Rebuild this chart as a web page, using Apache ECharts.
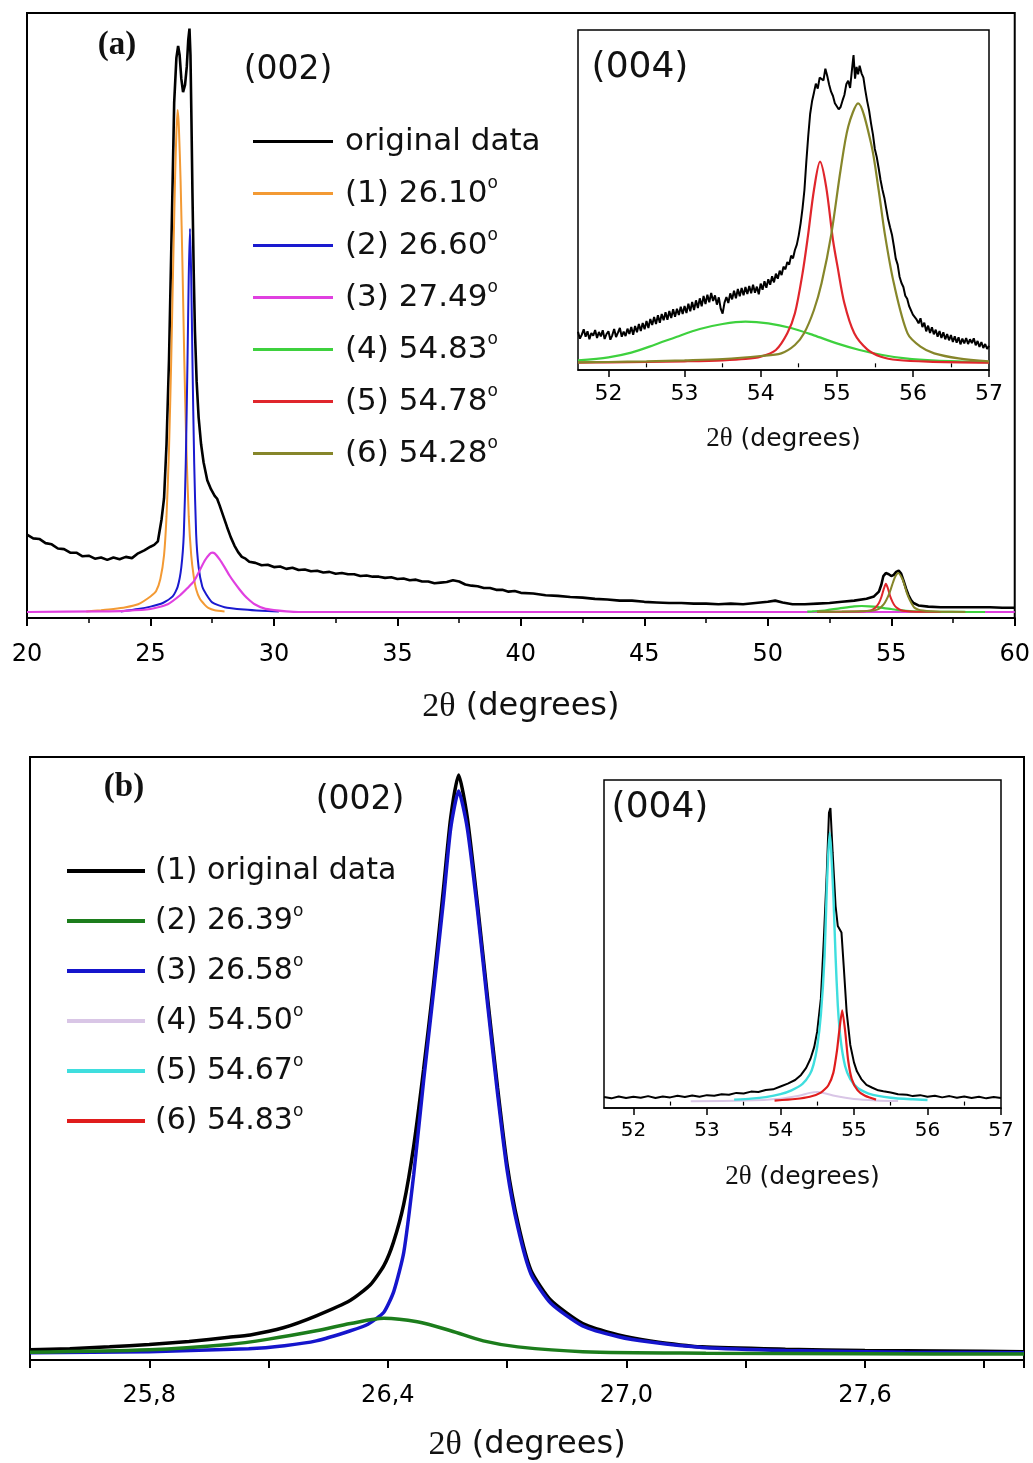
<!DOCTYPE html>
<html>
<head>
<meta charset="utf-8">
<script src="https://cdn.jsdelivr.net/npm/echarts@6/dist/echarts.min.js"></script>
<style>
  html, body { margin: 0; padding: 0; background: #fff; }
  #chart { width: 1033px; height: 1463px; }
</style>
</head>
<body>
<div id="chart"></div>
<script>
// ---------- panel (a): wide 2θ scan 20–60° and its Lorentzian components ----------
const scanA = [
  [20.0,12.9],[20.25,12.3],[20.5,12.2],[20.75,11.5],[21.0,11.3],[21.25,10.6],[21.5,10.5],[21.75,9.9],
  [22.0,9.9],[22.25,9.3],[22.5,9.4],[22.75,8.9],[23.0,9.1],[23.25,8.7],[23.5,9.1],[23.75,8.8],
  [24.0,9.2],[24.25,9.0],[24.5,9.8],[24.75,10.3],[25.0,10.9],[25.15,11.2],[25.3,11.8],[25.45,15.5],
  [25.55,19.0],[25.65,28.0],[25.75,42.0],[25.85,62.0],[25.96,85.0],[26.05,92.5],[26.12,94.5],[26.18,93.0],
  [26.25,89.0],[26.32,86.8],[26.4,88.0],[26.47,91.0],[26.53,95.5],[26.58,97.4],[26.62,93.0],[26.66,82.0],
  [26.7,70.0],[26.75,57.0],[26.8,47.0],[26.87,38.5],[26.95,32.5],[27.05,28.0],[27.15,25.0],[27.3,22.0],
  [27.45,20.5],[27.6,19.4],[27.7,18.9],[27.8,17.8],[27.95,16.0],[28.1,14.2],[28.25,12.5],[28.4,11.1],
  [28.55,10.0],[28.7,9.2],[28.85,8.9],[29.0,8.4],[29.25,8.2],[29.5,7.8],[29.75,7.9],[30.0,7.5],
  [30.25,7.6],[30.5,7.2],[30.75,7.4],[31.0,7.0],[31.25,7.1],[31.5,6.8],[31.75,6.9],[32.0,6.6],
  [32.25,6.7],[32.5,6.4],[32.75,6.5],[33.0,6.3],[33.25,6.3],[33.5,6.0],[33.75,6.1],[34.0,5.9],
  [34.25,5.9],[34.5,5.7],[34.75,5.8],[35.0,5.5],[35.25,5.6],[35.5,5.3],[35.75,5.4],[36.0,5.1],
  [36.25,5.1],[36.5,4.8],[36.75,4.9],[37.0,5.0],[37.25,5.3],[37.5,5.1],[37.75,4.6],[38.0,4.4],
  [38.25,4.3],[38.5,4.0],[38.75,4.0],[39.0,3.7],[39.25,3.7],[39.5,3.4],[39.75,3.5],[40.0,3.2],
  [40.5,3.1],[41.0,2.8],[41.5,2.7],[42.0,2.5],[42.5,2.4],[43.0,2.2],[43.5,2.1],[44.0,1.9],
  [44.5,1.9],[45.0,1.7],[45.5,1.6],[46.0,1.5],[46.5,1.5],[47.0,1.4],[47.5,1.4],[48.0,1.3],
  [48.5,1.4],[49.0,1.3],[49.5,1.5],[50.0,1.7],[50.3,1.9],[50.6,1.6],[51.0,1.3],[51.5,1.3],
  [52.0,1.4],[52.5,1.5],[53.0,1.7],[53.5,1.9],[54.0,2.2],[54.3,2.6],[54.5,3.4],[54.6,4.6],
  [54.68,6.0],[54.78,6.5],[54.9,6.3],[55.0,6.0],[55.1,6.2],[55.2,6.7],[55.3,6.9],[55.4,6.4],
  [55.5,5.2],[55.6,3.9],[55.7,2.8],[55.8,2.0],[55.9,1.5],[56.1,1.1],[56.5,0.9],[57.0,0.8],
  [57.5,0.8],[58.0,0.8],[58.5,0.8],[59.0,0.8],[59.5,0.7],[60.0,0.7]
];
const fitA1 = [
  [22.4,0.1],[23.0,0.3],[23.5,0.5],[24.0,0.8],[24.5,1.3],[25.0,2.6],[25.23,3.5],[25.4,5.5],
  [25.55,9.5],[25.65,16],[25.75,27],[25.84,42],[25.92,58],[26.0,73],[26.05,80],[26.1,83.8],
  [26.15,81],[26.22,72],[26.3,57],[26.37,42],[26.45,28],[26.55,16],[26.65,9.5],[26.75,6],
  [26.85,3.8],[27.0,2.2],[27.2,1.2],[27.34,0.7],[27.6,0.3],[28.0,0.1]
];
const fitA2 = [
  [23.8,0.1],[24.5,0.5],[25.0,0.9],[25.5,1.5],[25.9,2.6],[26.1,4.2],[26.25,7.5],[26.35,13],
  [26.43,25],[26.5,42],[26.55,56],[26.6,64],[26.65,56],[26.7,42],[26.77,25],[26.85,13],
  [26.95,7.5],[27.1,4.2],[27.25,3.0],[27.5,1.6],[28.0,0.8],[28.8,0.4],[29.5,0.2],[30.2,0.1]
];
const fitA3 = [
  [20.0,0],[23.0,0.1],[24.0,0.2],[25.0,0.5],[25.7,1.3],[26.2,2.8],[26.5,4.0],[26.77,5.2],
  [27.0,7.0],[27.2,8.6],[27.4,9.7],[27.5,9.9],[27.6,9.8],[27.8,8.8],[28.0,7.5],[28.2,6.1],
  [28.4,4.9],[28.6,3.8],[28.8,2.8],[29.0,2.0],[29.2,1.35],[29.6,0.6],[30.0,0.3],[30.5,0.1],[31.0,0],[60.0,0]
];
const fitA4 = [
  [51.6,0.05],[51.8,0.1],[52.3,0.25],[52.9,0.6],[53.5,0.95],[53.8,1.0],[54.1,0.95],[54.4,0.85],
  [54.7,0.65],[55.0,0.5],[55.3,0.32],[55.6,0.2],[55.9,0.12],[56.3,0.07],[57.0,0.03],[58.0,0.01],[58.8,0]
];
const fitA5 = [
  [52.0,0.03],[53.0,0.05],[53.5,0.07],[54.0,0.16],[54.2,0.3],[54.35,0.7],[54.5,1.5],[54.6,2.5],
  [54.7,3.9],[54.78,4.7],[54.86,4.0],[54.95,2.7],[55.05,1.7],[55.15,1.0],[55.23,0.7],[55.4,0.3],
  [55.58,0.16],[56.0,0.06],[57.0,0.02]
];
const fitA6 = [
  [52.0,0.03],[53.0,0.07],[53.5,0.1],[54.0,0.18],[54.27,0.25],[54.45,0.45],[54.57,0.75],[54.7,1.3],
  [54.8,2.0],[54.93,3.2],[55.05,4.7],[55.15,5.8],[55.28,6.5],[55.45,5.5],[55.55,4.3],[55.63,3.2],
  [55.75,2.0],[55.93,0.75],[56.1,0.4],[56.28,0.25],[56.6,0.12],[57.0,0.05],[58.0,0.01]
];

// inset of panel (a): the (004) reflection, 51.6–57°
const scanA004 = [
  [51.600,9.5],[51.625,7.4],[51.650,8.6],[51.675,10.2],[51.700,8.0],[51.725,9.6],[51.750,7.2],[51.775,9.1],
  [51.800,8.3],[51.825,10.0],[51.850,7.6],[51.875,9.4],[51.900,8.1],[51.925,9.9],[51.950,7.3],[51.975,8.8],
  [52.000,9.6],[52.025,7.1],[52.050,8.4],[52.075,10.3],[52.100,7.9],[52.125,9.2],[52.150,10.6],[52.175,8.0],
  [52.200,9.5],[52.225,8.2],[52.250,10.4],[52.275,8.8],[52.300,10.9],[52.325,8.6],[52.350,11.2],[52.375,9.3],
  [52.400,11.8],[52.425,9.7],[52.450,12.1],[52.475,10.2],[52.500,12.7],[52.525,10.6],[52.550,13.3],[52.575,11.5],
  [52.600,13.9],[52.625,11.8],[52.650,14.4],[52.675,12.2],[52.700,14.8],[52.725,12.9],[52.750,15.3],[52.775,13.1],
  [52.800,15.7],[52.825,13.6],[52.850,16.2],[52.875,14.0],[52.900,16.4],[52.925,14.5],[52.950,17.0],[52.975,14.8],
  [53.000,17.2],[53.025,15.1],[53.050,17.9],[53.075,15.6],[53.100,18.4],[53.125,16.0],[53.150,18.9],[53.175,16.6],
  [53.200,19.5],[53.225,17.1],[53.250,20.2],[53.275,17.8],[53.300,20.6],[53.325,18.3],[53.350,21.1],[53.375,18.7],
  [53.400,20.4],[53.425,17.6],[53.450,19.8],[53.475,16.4],[53.500,14.9],[53.525,18.2],[53.550,19.9],[53.575,18.1],
  [53.600,21.0],[53.625,19.2],[53.650,21.8],[53.675,19.5],[53.700,22.3],[53.725,20.1],[53.750,22.6],[53.775,20.4],
  [53.800,22.9],[53.825,20.8],[53.850,23.2],[53.875,21.0],[53.900,23.6],[53.925,21.2],[53.950,23.0],[53.975,20.7],
  [54.000,23.9],[54.025,22.1],[54.050,24.6],[54.075,22.7],[54.100,25.2],[54.125,23.6],[54.150,26.1],[54.175,24.3],
  [54.200,26.9],[54.225,25.4],[54.250,27.8],[54.275,26.5],[54.300,29.0],[54.325,28.2],[54.350,30.4],[54.375,29.6],
  [54.400,32.3],[54.425,31.5],[54.450,34.0],[54.475,35.6],[54.500,38.4],[54.525,42.0],[54.550,46.5],[54.575,52.0],
  [54.600,60.5],[54.625,68.2],[54.650,74.8],[54.675,78.6],[54.700,81.2],[54.725,83.9],[54.750,82.4],[54.775,85.7],
  [54.800,86.3],[54.825,84.9],[54.850,88.4],[54.875,86.2],[54.900,83.6],[54.925,81.5],[54.950,80.2],[54.975,78.0],
  [55.000,78.4],[55.025,76.2],[55.050,76.9],[55.075,78.8],[55.100,80.5],[55.125,83.7],[55.150,84.8],[55.175,82.6],
  [55.200,88.2],[55.220,92.5],[55.240,85.4],[55.260,88.9],[55.280,86.7],[55.300,89.3],[55.325,87.0],[55.350,85.7],
  [55.375,81.9],[55.400,78.6],[55.425,75.8],[55.450,72.0],[55.475,68.7],[55.500,64.3],[55.525,61.9],[55.550,58.6],
  [55.575,55.0],[55.600,52.1],[55.625,49.7],[55.650,46.4],[55.675,43.2],[55.700,40.8],[55.725,38.6],[55.750,35.2],
  [55.775,31.4],[55.800,29.6],[55.825,26.0],[55.850,24.1],[55.875,22.9],[55.900,20.3],[55.925,19.4],[55.950,17.2],
  [55.975,16.8],[56.000,14.6],[56.025,15.2],[56.050,13.1],[56.075,12.0],[56.100,13.5],[56.125,10.9],[56.150,12.2],
  [56.175,9.6],[56.200,11.3],[56.225,9.1],[56.250,10.8],[56.275,8.7],[56.300,10.1],[56.325,8.0],[56.350,9.7],
  [56.375,7.6],[56.400,9.3],[56.425,7.2],[56.450,8.8],[56.475,6.9],[56.500,8.5],[56.525,6.4],[56.550,8.1],
  [56.575,6.2],[56.600,7.8],[56.625,5.7],[56.650,7.4],[56.675,6.0],[56.700,7.6],[56.725,5.8],[56.750,7.2],
  [56.775,6.1],[56.800,7.5],[56.825,5.4],[56.850,6.7],[56.875,4.9],[56.900,6.4],[56.925,4.6],[56.950,5.8],
  [56.975,4.3],[57.000,5.3]
];
const fitA004g = [
  [51.6,0.9],[52.0,1.8],[52.3,3.2],[52.6,5.5],[52.9,8.0],[53.2,10.3],[53.5,11.8],[53.8,12.5],
  [54.1,12.0],[54.4,10.6],[54.7,8.4],[55.0,6.0],[55.3,4.0],[55.6,2.5],[55.9,1.5],[56.3,0.8],
  [56.7,0.5],[57.0,0.3]
];
const fitA004r = [
  [51.6,0.2],[52.0,0.3],[52.5,0.4],[53.0,0.6],[53.5,0.9],[53.8,1.3],[54.0,2.0],[54.2,4.0],
  [54.35,9],[54.45,15],[54.55,27],[54.62,38],[54.7,52],[54.78,60.5],[54.86,53],[54.95,37],
  [55.01,29],[55.1,18],[55.23,9],[55.4,4.2],[55.58,2.0],[55.8,1.0],[56.2,0.5],[57.0,0.2]
];
const fitA004o = [
  [51.6,0.3],[52.0,0.4],[52.5,0.6],[53.0,0.9],[53.5,1.3],[54.0,2.2],[54.27,3.0],[54.45,5.5],
  [54.57,9],[54.7,16],[54.8,24],[54.93,39],[55.05,58],[55.15,71],[55.28,78],[55.45,66],
  [55.55,52],[55.63,39],[55.75,24],[55.93,9],[56.1,5],[56.28,3],[56.6,1.5],[57.0,0.6]
];

// ---------- panel (b): (002) peak 25.5–28° ----------
const scanB = [
  [25.5,0.7],[25.6,0.9],[25.7,1.2],[25.8,1.6],[25.9,2.1],[26.0,2.8],[26.054,3.2],[26.137,4.4],
  [26.22,6.4],[26.306,9.0],[26.356,11.6],[26.39,14.8],[26.414,18.7],[26.44,25.1],[26.465,34.8],[26.49,47.7],
  [26.515,62],[26.54,78],[26.558,89.8],[26.578,97],[26.6,89.8],[26.626,75],[26.651,59.5],[26.676,44.6],
  [26.70,31.7],[26.727,22],[26.76,14],[26.81,9],[26.89,5.1],[26.98,3.2],[27.06,2.2],[27.19,1.2],
  [27.4,0.8],[27.6,0.6],[27.8,0.5],[28.0,0.4]
];
const fitB2 = [
  [25.5,0.3],[25.8,0.7],[26.0,1.6],[26.1,2.5],[26.22,3.9],[26.306,5.1],[26.39,6.0],[26.474,5.4],
  [26.558,3.9],[26.64,2.2],[26.727,1.2],[26.89,0.4],[27.2,0.15],[27.6,0.05],[28.0,0.0]
];
const fitB3 = [
  [25.5,0.2],[25.8,0.4],[26.05,0.9],[26.14,1.4],[26.22,2.2],[26.306,3.9],[26.35,5],[26.39,7],
  [26.415,10.5],[26.44,17],[26.465,30],[26.49,45.8],[26.515,60.7],[26.54,76],[26.558,88],[26.578,94.3],
  [26.6,88],[26.626,74],[26.651,58.5],[26.676,43.6],[26.70,30.8],[26.727,21.2],[26.76,13.4],[26.81,8.5],
  [26.89,4.7],[26.98,2.9],[27.06,2.0],[27.19,1.1],[27.4,0.6],[27.7,0.3],[28.0,0.2]
];

// inset of panel (b): the (004) reflection
const scanB004 = [
  [51.60,1.4],[51.70,1.0],[51.80,1.6],[51.90,1.1],[52.00,1.5],[52.10,1.2],[52.20,1.7],[52.30,1.1],
  [52.40,1.6],[52.50,1.3],[52.60,1.8],[52.70,1.4],[52.80,1.9],[52.90,1.5],[53.00,2.0],[53.10,1.8],
  [53.20,2.3],[53.30,2.1],[53.40,2.7],[53.50,2.5],[53.60,3.1],[53.70,3.0],[53.80,3.6],[53.90,3.8],
  [54.00,4.7],[54.10,5.6],[54.20,6.7],[54.28,8.3],[54.35,10.5],[54.41,13.4],[54.46,17.0],[54.50,21.8],
  [54.55,32],[54.59,50.5],[54.63,71],[54.66,89.8],[54.68,91.3],[54.71,77.4],[54.75,60.8],[54.78,54.6],
  [54.83,52.6],[54.86,42.3],[54.90,28],[54.95,17.6],[55.00,12.2],[55.04,9.4],[55.10,7.0],[55.17,5.2],
  [55.25,4.3],[55.33,3.5],[55.40,3.2],[55.50,2.8],[55.60,2.3],[55.72,2.1],[55.80,1.7],[55.90,2.0],
  [56.00,1.5],[56.10,1.8],[56.20,1.3],[56.30,1.7],[56.40,1.2],[56.50,1.6],[56.60,1.1],[56.70,1.5],
  [56.80,1.0],[56.90,1.4],[57.00,1.1]
];
const fitB4 = [
  [52.78,0.1],[53.5,0.3],[54.0,0.9],[54.25,1.8],[54.4,2.7],[54.5,3.0],[54.6,2.6],[54.75,1.7],
  [55.0,0.8],[55.3,0.35],[55.6,0.15]
];
const fitB5 = [
  [53.37,0.6],[53.6,0.9],[53.8,1.4],[54.0,2.3],[54.15,3.5],[54.3,5.5],[54.4,8.5],[54.45,11.5],
  [54.5,17],[54.55,27],[54.6,45],[54.63,66],[54.65,77],[54.67,83.6],[54.69,78],[54.72,64],
  [54.75,45],[54.78,30],[54.82,19],[54.88,11],[54.95,7],[55.05,4.2],[55.2,2.5],[55.5,1.2],
  [55.8,0.7],[56.0,0.5]
];
const fitB6 = [
  [53.92,0.3],[54.2,0.8],[54.4,1.5],[54.55,2.8],[54.65,5],[54.72,9],[54.77,16],[54.8,22],
  [54.84,28.4],[54.88,22],[54.92,13],[54.97,7],[55.05,3.5],[55.15,1.8],[55.3,0.6]
];

// legend captions and axis ticks
const namesA = ['original data', '(1) 26.10', '(2) 26.60', '(3) 27.49', '(4) 54.83', '(5) 54.78', '(6) 54.28'];
const namesB = ['(1) original data', '(2) 26.39', '(3) 26.58', '(4) 54.50', '(5) 54.67', '(6) 54.83'];
const insetMajor = [52, 53, 54, 55, 56, 57];
const insetMinor = [52.5, 53.5, 54.5, 55.5, 56.5];
const labelsB = [25.8, 26.4, 27.0, 27.6];

// ---------- styling ----------
const SANS = "'DejaVu Sans', 'Liberation Sans', sans-serif";
const SERIF = "'Liberation Serif', 'Times New Roman', serif";
const colA = ['#000000', '#f39a34', '#1a1acf', '#e040e0', '#3ed13e', '#e0262c', '#86862a'];
const colB = ['#000000', '#1c7d1c', '#1515cc', '#d9c6e6', '#3fdede', '#e01c1c'];

function line(name, data, color, axis, width, smooth) {
  return {
    type: 'line', name, data, xAxisIndex: axis.x, yAxisIndex: axis.y,
    symbol: 'none', showSymbol: false, smooth: smooth || false,
    itemStyle: { color }, lineStyle: { color, width },
    animation: false, silent: true, emphasis: { disabled: true }
  };
}

const AX_A = { x: 0, y: 0 }, AX_A4 = { x: 1, y: 1 }, AX_B = { x: 3, y: 2 }, AX_B4 = { x: 4, y: 3 };

function degName(size, lh) {
  return {
    s: { fontFamily: SERIF, fontSize: size + 2, color: '#111', lineHeight: lh },
    t: { fontFamily: SANS, fontSize: size, color: '#111', lineHeight: lh }
  };
}
const AXIS_NAME = '{s|2θ}{t| (degrees)}';

function mainX(gridIndex, min, max, extra) {
  return Object.assign({
    type: 'value', gridIndex, min, max, position: 'bottom',
    axisLine: { show: true, onZero: false, lineStyle: { color: '#000', width: 2 } },
    axisTick: { show: true, inside: false, length: 8, lineStyle: { color: '#000', width: 2 } },
    splitLine: { show: false },
    axisLabel: { color: '#000', fontFamily: SANS, fontSize: 24, margin: 25 },
    name: AXIS_NAME, nameLocation: 'middle', nameGap: 70,
    nameTextStyle: { rich: degName(32, 38) }
  }, extra);
}
function insetX(gridIndex, labelSize) {
  return {
    type: 'value', gridIndex, min: 51.6, max: 57, position: 'bottom',
    axisLine: { show: true, onZero: false, lineStyle: { color: '#000', width: 1.5 } },
    axisTick: { show: true, inside: false, length: 7, customValues: insetMajor, lineStyle: { color: '#000', width: 1.5 } },
    splitLine: { show: false },
    axisLabel: { color: '#000', fontFamily: SANS, fontSize: labelSize, margin: 13, customValues: insetMajor },
    name: AXIS_NAME, nameLocation: 'middle', nameGap: 54,
    nameTextStyle: { rich: degName(25, 30) }
  };
}
function insetMinorX(gridIndex) {
  return {
    type: 'value', gridIndex, min: 51.6, max: 57, position: 'bottom',
    axisLine: { show: false },
    axisTick: { show: true, inside: false, length: 4, customValues: insetMinor, lineStyle: { color: '#000', width: 1.2 } },
    splitLine: { show: false }, axisLabel: { show: false }
  };
}
function hiddenY(gridIndex, min, max) {
  return { type: 'value', gridIndex, min, max, show: false, splitLine: { show: false } };
}

function legendText(size, lh, gap) {
  return {
    rich: {
      t: { fontFamily: SANS, fontSize: size, color: '#111', lineHeight: lh, padding: [0, 0, 0, gap] },
      o: { fontFamily: SANS, fontSize: 17, color: '#111', lineHeight: 16, verticalAlign: 'top' }
    }
  };
}
function legendFmt(name) {
  return /\d$/.test(name) ? '{t|' + name + '}{o|o}' : '{t|' + name + '}';
}

function label(text, x, y, size, family, weight) {
  return {
    type: 'text', x, y, silent: true,
    style: { text, fill: '#111', fontSize: size, fontFamily: family, fontWeight: weight || 'normal',
             align: 'center', verticalAlign: 'middle' }
  };
}

const option = {
  backgroundColor: '#ffffff',
  animation: false,
  grid: [
    { left: 27, top: 13, width: 988, height: 605, show: true, borderColor: '#000', borderWidth: 2, backgroundColor: 'transparent' },
    { left: 578, top: 30, width: 411, height: 340, show: true, borderColor: '#000', borderWidth: 1.5, backgroundColor: 'transparent' },
    { left: 30, top: 757, width: 994, height: 603, show: true, borderColor: '#000', borderWidth: 2, backgroundColor: 'transparent' },
    { left: 604, top: 780, width: 397, height: 328, show: true, borderColor: '#000', borderWidth: 1.5, backgroundColor: 'transparent' }
  ],
  xAxis: [
    mainX(0, 20, 60, { interval: 5, minorTick: { show: true, splitNumber: 2, length: 5, lineStyle: { color: '#000', width: 1.5 } } }),
    insetX(1, 22),
    insetMinorX(1),
    mainX(2, 25.5, 28, {
      interval: 0.3, nameGap: 66,
      axisLabel: {
        color: '#000', fontFamily: SANS, fontSize: 24, margin: 24, customValues: labelsB,
        formatter: v => (Math.round(v * 10) / 10).toFixed(1).replace('.', ',')
      }
    }),
    insetX(3, 20),
    insetMinorX(3)
  ],
  yAxis: [hiddenY(0, -1, 100), hiddenY(1, -2, 100), hiddenY(2, -1, 100), hiddenY(3, -2, 100)],
  legend: [
    {
      data: namesA, orient: 'vertical', left: 253, top: 126, padding: 0,
      itemWidth: 80, itemHeight: 3, itemGap: 18.5, icon: 'rect', selectedMode: false,
      formatter: legendFmt, textStyle: legendText(31, 36, 7)
    },
    {
      data: namesB, orient: 'vertical', left: 67, top: 856, padding: 0,
      itemWidth: 78, itemHeight: 4, itemGap: 17, icon: 'rect', selectedMode: false,
      formatter: legendFmt, textStyle: legendText(30, 36, 5)
    }
  ],
  graphic: [
    label('(a)', 117, 45, 33, SERIF, 'bold'),
    label('(002)', 288, 70, 33, SANS),
    label('(004)', 640, 68, 36, SANS),
    label('(b)', 124, 787, 33, SERIF, 'bold'),
    label('(002)', 360, 800, 33, SANS),
    label('(004)', 660, 808, 36, SANS)
  ],
  series: [
    // panel (a)
    line(namesA[0], scanA, colA[0], AX_A, 2.6),
    line(namesA[1], fitA1, colA[1], AX_A, 2, 0.2),
    line(namesA[2], fitA2, colA[2], AX_A, 2, 0.2),
    line(namesA[3], fitA3, colA[3], AX_A, 2.2, 0.2),
    line(namesA[4], fitA4, colA[4], AX_A, 2.2, 0.2),
    line(namesA[5], fitA5, colA[5], AX_A, 2, 0.2),
    line(namesA[6], fitA6, colA[6], AX_A, 2, 0.2),
    // inset of panel (a)
    line(namesA[0], scanA004, colA[0], AX_A4, 2),
    line(namesA[4], fitA004g, colA[4], AX_A4, 2.2, 0.3),
    line(namesA[5], fitA004r, colA[5], AX_A4, 2.2, 0.3),
    line(namesA[6], fitA004o, colA[6], AX_A4, 2.2, 0.3),
    // panel (b)
    line(namesB[0], scanB, colB[0], AX_B, 3.5, 0.2),
    line(namesB[2], fitB3, colB[2], AX_B, 3.5, 0.2),
    line(namesB[1], fitB2, colB[1], AX_B, 3.5, 0.3),
    // inset of panel (b)
    line(namesB[0], scanB004, colB[0], AX_B4, 2),
    line(namesB[3], fitB4, colB[3], AX_B4, 2, 0.3),
    line(namesB[4], fitB5, colB[4], AX_B4, 2.4, 0.2),
    line(namesB[5], fitB6, colB[5], AX_B4, 2.2, 0.2)
  ]
};

const chart = echarts.init(document.getElementById('chart'), null, { renderer: 'canvas' });
chart.setOption(option);
</script>
</body>
</html>
